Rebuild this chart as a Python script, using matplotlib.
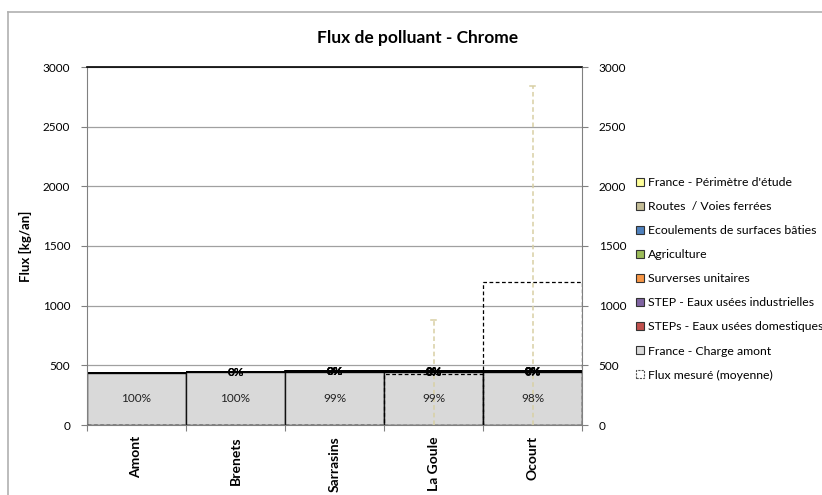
import numpy as np
import matplotlib
matplotlib.use("Agg")
import matplotlib.pyplot as plt
from matplotlib.patches import Patch
from matplotlib.lines import Line2D

plt.rcParams['font.family'] = ['Lato', 'DejaVu Sans']

categories = ["Amont", "Brenets", "Sarrasins", "La Goule", "Ocourt"]

# stacked series (kg/an), bottom to top
charge_amont = [436, 441, 448, 446, 446]
steps_dom    = [0, 1, 2, 1, 2]
step_ind     = [0, 0, 0, 0, 1]
surverses    = [0, 0, 1, 1, 2]
agriculture  = [0, 0, 1, 1, 2]
ecoulements  = [0, 1, 1, 1, 2]
routes       = [0, 0, 1, 0, 1]
france_perim = [0, 0, 0, 0, 0]

series_names = ["France - Charge amont", "STEPs - Eaux usées domestiques",
                "STEP - Eaux usées industrielles", "Surverses unitaires",
                "Agriculture", "Ecoulements de surfaces bâties",
                "Routes  / Voies ferrées", "France - Périmètre d'étude"]
series_vals = [charge_amont, steps_dom, step_ind, surverses,
               agriculture, ecoulements, routes, france_perim]
series_colors = ["#D9D9D9", "#C0504D", "#8064A2", "#F79646",
                 "#9BBB59", "#4F81BD", "#C4BD97", "#FFFF99"]

# measured flux (mean) and range
measured_mean = [np.nan, np.nan, np.nan, 428, 1200]
measured_min  = [np.nan, np.nan, np.nan, 0, 0]
measured_max  = [np.nan, np.nan, np.nan, 880, 2840]

yticks = [0, 500, 1000, 1500, 2000, 2500, 3000]

fig = plt.figure(figsize=(8.22, 4.95), dpi=100)
ax = fig.add_axes([87/822, 1-425/495, (582-87)/822, (425-67)/495])

x = np.arange(len(categories))
totals = np.sum(np.array(series_vals), axis=0)
bottom = np.zeros(len(categories))
for i, (name, vals, col) in enumerate(zip(series_names, series_vals, series_colors)):
    vals = np.array(vals, dtype=float)
    if i == 0:
        ax.bar(x, vals, width=1.0, bottom=bottom, color=col,
               edgecolor="#111111", linewidth=1.0, zorder=2)
        for xi, v, b, t in zip(x, vals, bottom, totals):
            ax.text(xi, b + v/2, f"{round(100*v/t):.0f}%", ha="center",
                    va="center", fontsize=8.5, color="#222222", zorder=6)
    else:
        ax.bar(x, vals, width=1.0, bottom=bottom, color=col,
               edgecolor="black", linewidth=1.3, zorder=2)
        for xi, v, b, t in zip(x, vals, bottom, totals):
            if v > 0:
                ax.text(xi, b + v/2 - 4, f"{round(100*v/t):.0f}%", ha="center",
                        va="center", fontsize=8.5, fontweight="bold",
                        color="black", zorder=6)
    bottom += vals

# measured flux: dashed boxes
mm = np.array(measured_mean, dtype=float)
ax.bar(x, np.nan_to_num(mm), width=1.0, fill=False, edgecolor="black",
       linestyle=(0, (3, 2)), linewidth=0.9, zorder=4)
# range lines
for xi, lo, hi in zip(x, measured_min, measured_max):
    if not np.isnan(hi):
        ax.plot([xi, xi], [lo, hi], color="#D8D0A4", linestyle=(0, (3, 2)),
                linewidth=1.1, zorder=5)
        ax.plot([xi - 0.03, xi + 0.03], [hi, hi], color="#D8D0A4",
                linewidth=1.1, zorder=5)

ax.set_xlim(-0.5, len(categories) - 0.5)
ax.set_ylim(0, 3000)
ax.set_yticks(yticks)
ax.set_yticklabels([str(v) for v in yticks], fontsize=8.5)
ax.yaxis.grid(True, color="#A0A0A0", linewidth=0.9, zorder=0)
ax.set_axisbelow(True)
ax.set_xticks(np.arange(len(categories) + 1) - 0.5, minor=False)
ax.set_xticklabels([])
ax.set_xticks(x, minor=True)
ax.set_xticklabels(categories, minor=True, rotation=90, fontsize=10,
                   fontweight="bold")
ax.tick_params(axis="x", which="minor", length=0, pad=8)
ax.tick_params(axis="x", which="major", length=4, color="#808080")
ax.tick_params(axis="y", length=4, color="#808080", pad=8)
for s in ["left", "right", "bottom"]:
    ax.spines[s].set_color("#808080")
ax.spines["top"].set_color("black")
ax.spines["top"].set_linewidth(1.2)
ax.set_ylabel("Flux [kg/an]", fontsize=9.5, fontweight="bold", labelpad=8)

ax2 = ax.twinx()
ax2.set_ylim(0, 3000)
ax2.set_yticks(yticks)
ax2.set_yticklabels([str(v) for v in yticks], fontsize=8.5)
ax2.tick_params(axis="y", length=4, color="#808080", pad=8)
for s in ax2.spines.values():
    s.set_visible(False)

fig.text(418/822, 1-38/495, "Flux de polluant - Chrome", ha="center",
         va="center", fontsize=12.5, fontweight="bold")

# legend
leg_names = series_names[::-1] + ["Flux mesuré (moyenne)"]
leg_colors = series_colors[::-1]
handles = [Patch(facecolor=c, edgecolor="#333333", linewidth=0.8) for c in leg_colors]
handles.append(Patch(facecolor="white", edgecolor="#555555",
                     linestyle=(0, (2, 1)), linewidth=0.8))
leg = fig.legend(handles, leg_names, loc="upper left",
                 bbox_to_anchor=(636/822, 1-177/495), frameon=False,
                 fontsize=8.8, handlelength=0.65, handleheight=0.65,
                 handletextpad=0.35, labelspacing=1.07, borderaxespad=0,
                 borderpad=0)

# outer frame lines
fig.add_artist(Line2D([8/822, 8/822], [0, 1-12/495], color="#B0B0B0",
                      linewidth=1.2, transform=fig.transFigure))
fig.add_artist(Line2D([8/822, 1], [1-12/495, 1-12/495], color="#B0B0B0",
                      linewidth=1.2, transform=fig.transFigure))

fig.savefig("out.png", dpi=100)
